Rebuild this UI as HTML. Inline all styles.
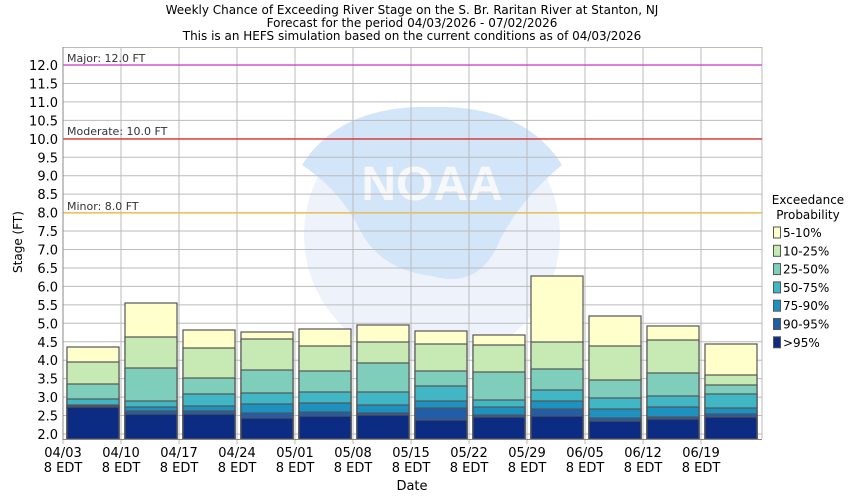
<!DOCTYPE html>
<html><head><meta charset="utf-8"><style>
html,body{margin:0;padding:0;background:#fff;}
svg{display:block;font-family:"DejaVu Sans","Liberation Sans",sans-serif;}
</style></head><body>
<svg width="850" height="500" viewBox="0 0 850 500" xmlns="http://www.w3.org/2000/svg">
<rect width="850" height="500" fill="#fff"/>
<g font-size="12" fill="#000" text-anchor="middle">
<text x="412" y="14">Weekly Chance of Exceeding River Stage on the S. Br. Raritan River at Stanton, NJ</text>
<text x="412" y="27">Forecast for the period 04/03/2026 - 07/02/2026</text>
<text x="412" y="40">This is an HEFS simulation based on the current conditions as of 04/03/2026</text>
</g>
<g>
<circle cx="432" cy="235" r="128" fill="#eef3fb"/>
<path d="M302,165 Q340,105 432,107 Q525,105 562,165 Q520,200 500,240 Q480,290 432,276 Q380,270 360,230 Q340,190 302,165 Z" fill="#d3e5f8"/>
<text x="432" y="200" font-size="48" font-weight="bold" fill="#f7f8fa" text-anchor="middle" font-family="Liberation Sans,sans-serif">NOAA</text>
</g>
<g stroke="#bbb" stroke-width="1">
<line x1="63" x2="762" y1="47.5" y2="47.5"/>
</g>
<g id="hg" stroke="#bbb" stroke-width="1"></g>
<g id="vg" stroke="#bbb" stroke-width="1"></g>
<line x1="63" x2="762" y1="65" y2="65" stroke="#cc33cc" stroke-width="1.2"/>
<line x1="63" x2="762" y1="139" y2="139" stroke="#dd2222" stroke-width="1.2"/>
<line x1="63" x2="762" y1="213" y2="213" stroke="#f0c040" stroke-width="1.2"/>
<g font-size="11" fill="#333">
<text x="67" y="62">Major: 12.0 FT</text>
<text x="67" y="135">Moderate: 10.0 FT</text>
<text x="67" y="210">Minor: 8.0 FT</text>
</g>
<g id="bars" stroke="#555" stroke-width="1.2"></g>
<line x1="63" x2="63" y1="47" y2="440" stroke="#888" stroke-width="1"/>
<line x1="63" x2="762" y1="439.5" y2="439.5" stroke="#888" stroke-width="1"/>
<g id="yl" font-size="13" text-anchor="end" fill="#000"></g>
<g id="xl" font-size="13" text-anchor="middle" fill="#000"></g>
<text x="22" y="242" font-size="12" text-anchor="middle" transform="rotate(-90 22 242)">Stage (FT)</text>
<text x="412" y="490" font-size="13" text-anchor="middle">Date</text>
<g font-size="12" fill="#000">
<text x="808" y="204" text-anchor="middle">Exceedance</text>
<text x="808" y="219" text-anchor="middle">Probability</text>
</g>
<g id="leg" font-size="12"></g>
<script>
var NS="http://www.w3.org/2000/svg";
function el(p,t,a,txt){var e=document.createElementNS(NS,t);for(var k in a)e.setAttribute(k,a[k]);if(txt!=null)e.textContent=txt;document.getElementById(p).appendChild(e);}
for(var i=0;i<=20;i++){var y=434-i*18.45;el("hg","line",{x1:63,x2:762,y1:y,y2:y});el("yl","text",{x:58,y:y+5},(2+i*0.5).toFixed(1));}
var dates=["04/03","04/10","04/17","04/24","05/01","05/08","05/15","05/22","05/29","06/05","06/12","06/19"];
for(var i=0;i<12;i++){var x=63+i*58;el("vg","line",{x1:x,x2:x,y1:47,y2:444});el("xl","text",{x:x,y:457},dates[i]);el("xl","text",{x:x,y:472},"8 EDT");}
el("vg","line",{x1:762,x2:762,y1:47,y2:439});
var cols=["#ffffcc","#c7e9b4","#7fcdbb","#41b6c4","#1d91c0","#225ea8","#0c2c84"];
var B=[[347,362,384,399,405,406,407],[303,337,368,401,407,411,414],[330,348,378,394,406,411,414],[332,339,370,393,404,413,418],[329,346,371,392,403,412,416],[325,342,363,392,405,413,415],[331,344,371,386,401,408,420],[335,345,372,400,407,415,417],[276,342,369,390,401,409,416],[316,346,380,398,409,418,421],[326,340,373,396,407,417,419],[344,375,385,394,408,414,417]];
for(var i=0;i<12;i++){var x=67+i*58;for(var j=0;j<7;j++){var y=B[i][j];el("bars","rect",{x:x,y:y,width:52,height:439-y,fill:cols[j]});}}
var labs=["5-10%","10-25%","25-50%","50-75%","75-90%","90-95%",">95%"];
for(var j=0;j<7;j++){var y=227+j*18.3;el("leg","rect",{x:773.5,y:y,width:7,height:11,fill:cols[j],stroke:"#555","stroke-width":1});el("leg","text",{x:783,y:y+10},labs[j]);}
</script>
</svg>
</body></html>
